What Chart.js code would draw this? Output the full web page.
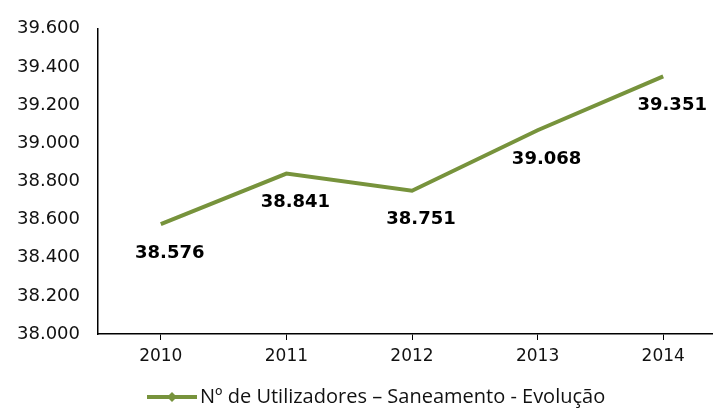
<!DOCTYPE html>
<html>
<head>
<meta charset="utf-8">
<script src="https://cdn.jsdelivr.net/npm/chart.js@4/dist/chart.umd.min.js"></script>
<style>
  html, body { margin: 0; background: #fff; overflow: hidden; }
  #grafico { display: block; }
</style>
</head>
<body>
<!-- o grafico original esta cortado a direita: canvas um pouco mais largo que a janela -->
<canvas id="grafico" width="726" height="408"></canvas>
<script>
// datos
const anos = ['2010', '2011', '2012', '2013', '2014'];
const utilizadores = [38576, 38841, 38751, 39068, 39351];
const nomeSerie = 'Nº de Utilizadores – Saneamento - Evolução';
const yMin = 38000;
const yMax = 39600;
const yPasso = 200;

const verde = '#77933C';

// formato portugues: 38.576
function formatar(v) {
  return String(v).replace(/\B(?=(\d{3})+(?!\d))/g, '.');
}

// etiquetas dos valores por baixo de cada ponto + legenda desenhada a mao
const etiquetas = {
  id: 'etiquetas',
  afterDatasetsDraw(chart) {
    const ctx = chart.ctx;
    const meta = chart.getDatasetMeta(0);
    ctx.save();
    ctx.font = 'bold 18px "DejaVu Sans"';
    ctx.fillStyle = '#000';
    ctx.textAlign = 'center';
    ctx.textBaseline = 'middle';
    meta.data.forEach((pt, i) => {
      ctx.fillText(formatar(utilizadores[i]), pt.x + 9, pt.y + 29);
    });
    ctx.restore();
  },
  afterDraw(chart) {
    const ctx = chart.ctx;
    const y = 397;
    const x0 = 147;
    ctx.save();
    // linha com losango
    ctx.strokeStyle = verde;
    ctx.lineWidth = 4;
    ctx.beginPath();
    ctx.moveTo(x0, y);
    ctx.lineTo(x0 + 50, y);
    ctx.stroke();
    ctx.fillStyle = verde;
    ctx.beginPath();
    ctx.moveTo(x0 + 25, y - 5);
    ctx.lineTo(x0 + 30, y);
    ctx.lineTo(x0 + 25, y + 5);
    ctx.lineTo(x0 + 20, y);
    ctx.closePath();
    ctx.fill();
    ctx.font = '20px "Open Sans"';
    ctx.fillStyle = '#111';
    ctx.textAlign = 'left';
    ctx.textBaseline = 'middle';
    ctx.fillText(nomeSerie, x0 + 53, y);
    ctx.restore();
  }
};

new Chart(document.getElementById('grafico'), {
  type: 'line',
  data: {
    labels: anos,
    datasets: [{
      label: nomeSerie,
      data: utilizadores,
      borderColor: verde,
      backgroundColor: verde,
      borderWidth: 4,
      pointRadius: 0,
      tension: 0
    }]
  },
  options: {
    responsive: false,
    animation: false,
    layout: { padding: { top: 16, right: 0, left: 0, bottom: 34 } },
    scales: {
      x: {
        offset: true,
        grid: { display: true, drawOnChartArea: false, drawTicks: true, tickLength: 6, offset: false, color: '#000' },
        border: { display: true, color: '#000', width: 1.5 },
        ticks: { color: '#111', font: { family: 'DejaVu Sans', size: 17 }, padding: 6 },
        afterFit(scale) { scale.height = 40; }
      },
      y: {
        min: yMin,
        max: yMax,
        grid: { display: false, drawTicks: false },
        border: { display: true, color: '#000', width: 1.5 },
        ticks: {
          stepSize: yPasso,
          color: '#111',
          font: { family: 'DejaVu Sans', size: 18 },
          padding: 18,
          callback: (v) => formatar(v)
        },
        afterFit(scale) { scale.width = 98; }
      }
    },
    plugins: {
      tooltip: { enabled: false },
      legend: { display: false }
    }
  },
  plugins: [etiquetas]
});
</script>
</body>
</html>
